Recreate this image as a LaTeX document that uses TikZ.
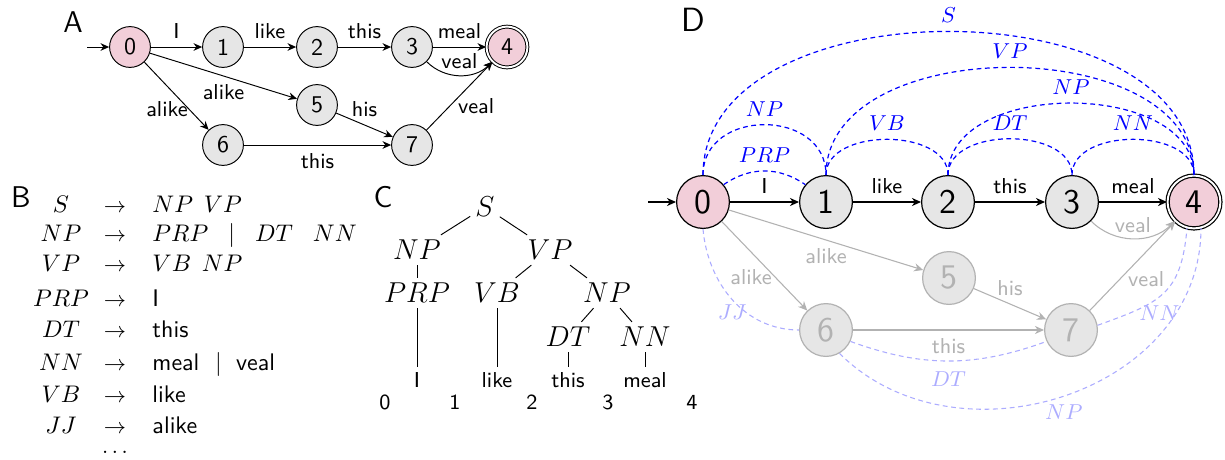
\documentclass[tikz,border=0pt]{standalone}
\usetikzlibrary{arrows.meta}
\definecolor{stpink}{RGB}{242,206,217}
\definecolor{stgray}{RGB}{230,230,230}
\definecolor{ghgray}{RGB}{178,178,178}
\definecolor{lblue}{RGB}{172,172,255}
\begin{document}
\begin{tikzpicture}[x=0.41667pt,y=0.41667pt,
  panel/.style={font=\sffamily\fontsize{12.5}{13}\selectfont, inner sep=0pt},
  panelD/.style={font=\sffamily\fontsize{14}{15}\selectfont, inner sep=0pt},
  sa/.style={circle,draw,line width=0.4pt,fill=stgray,minimum size=17pt,inner sep=0pt,font=\sffamily},
  sd/.style={circle,draw,line width=0.5pt,fill=stgray,minimum size=22pt,inner sep=0pt,font=\sffamily\Large},
  init/.style={fill=stpink},
  final/.style={double,double distance=0.8pt},
  ghost/.style={draw=ghgray,text=ghgray},
  el/.style={font=\sffamily\small},
  gl/.style={font=\sffamily\small,text=ghgray},
  ed/.style={-{Stealth[length=3.6pt,width=3.2pt]},line width=0.4pt},
  edd/.style={-{Stealth[length=3.8pt,width=3.4pt]},line width=0.5pt},
  gd/.style={-{Stealth[length=3.8pt,width=3.4pt]},draw=ghgray,line width=0.45pt},
  ch/.style={blue,dash pattern=on 2pt off 1.5pt,line width=0.5pt},
  chl/.style={lblue,dash pattern=on 2pt off 1.5pt,line width=0.45pt},
  chlab/.style={font=\small,text=blue},
  chll/.style={font=\small,text=lblue},
  tn/.style={font=\large,inner sep=2pt},
  tw/.style={font=\sffamily\small,inner sep=2pt},
  bl/.style={inner sep=0pt,anchor=base},
  br/.style={inner sep=0pt,anchor=base west,font=\sffamily},
  ba/.style={inner sep=0pt,anchor=base,font=\small}
]
\useasboundingbox (0,0) rectangle (1225,-459);

% ---------------- Panel A ----------------
\node[panel] (lA) at (73,-22) {A};
\node[sa,init] (a0) at (130,-47) {0};
\node[sa] (a1) at (223,-47) {1};
\node[sa] (a2) at (317,-47) {2};
\node[sa] (a3) at (412,-47) {3};
\node[sa,init,final] (a4) at (507,-47) {4};
\node[sa] (a5) at (317,-105) {5};
\node[sa] (a6) at (223,-145) {6};
\node[sa] (a7) at (412,-145) {7};
\coordinate (as) at (87,-47);
\draw[ed] (as) -- (a0);
\draw[ed] (a0) -- node[el,above]{I} (a1);
\draw[ed] (a1) -- node[el,above]{like} (a2);
\draw[ed] (a2) -- node[el,above]{this} (a3);
\draw[ed] (a3) -- node[el,above]{meal} (a4);
\draw[ed] (a3) to[out=-45,in=-135] node[el,above=-1pt]{veal} (a4);
\draw[ed] (a0) -- node[el,below]{alike} (a5);
\draw[ed] (a0) -- node[el,pos=0.7,left,inner sep=0.5pt]{alike} (a6);
\draw[ed] (a5) -- node[el,above]{his} (a7);
\draw[ed] (a6) -- node[el,below]{this} (a7);
\draw[ed] (a7) -- node[el,pos=0.35,right]{veal} (a4);

% ---------------- Panel B ----------------
\node[panel] (lB) at (21,-197) {B};
\node[bl] (bl1) at (61,-212) {$S$};
\node[ba] (ba1) at (115,-212) {$\rightarrow$};
\node[br] (br1) at (152,-212) {$NP\;\,VP$};
\node[bl] (bl2) at (61,-241) {$NP$};
\node[ba] (ba2) at (115,-241) {$\rightarrow$};
\node[br] (br2) at (152,-241) {$PRP\;\;\mid\;\;DT\;\;\;NN$};
\node[bl] (bl3) at (61,-271) {$VP$};
\node[ba] (ba3) at (115,-271) {$\rightarrow$};
\node[br] (br3) at (152,-271) {$VB\;\,NP$};
\node[bl] (bl4) at (61,-306) {$PRP$};
\node[ba] (ba4) at (115,-306) {$\rightarrow$};
\node[br] (br4) at (152,-306) {I};
\node[bl] (bl5) at (61,-337) {$DT$};
\node[ba] (ba5) at (115,-337) {$\rightarrow$};
\node[br] (br5) at (152,-337) {this};
\node[bl] (bl6) at (61,-370) {$NN$};
\node[ba] (ba6) at (115,-370) {$\rightarrow$};
\node[br] (br6) at (152,-370) {meal\hspace{6.5pt}$\mid$\hspace{6pt}veal};
\node[bl] (bl7) at (61,-402) {$VB$};
\node[ba] (ba7) at (115,-402) {$\rightarrow$};
\node[br] (br7) at (152,-402) {like};
\node[bl] (bl8) at (61,-433) {$JJ$};
\node[ba] (ba8) at (115,-433) {$\rightarrow$};
\node[br] (br8) at (152,-433) {alike};
\node[ba] (bdots) at (115,-453) {$\dots$};

% ---------------- Panel C ----------------
\node[panel] (lC) at (383,-197) {C};
\node[tn] (cS) at (485,-207) {$S$};
\node[tn] (cNP) at (417,-250) {$NP$};
\node[tn] (cVP) at (550,-250) {$VP$};
\node[tn] (cPRP) at (417,-293) {$PRP$};
\node[tn] (cVB) at (497,-293) {$VB$};
\node[tn] (cNPb) at (607,-293) {$NP$};
\node[tn] (cDT) at (568,-337) {$DT$};
\node[tn] (cNN) at (645,-337) {$NN$};
\node[tw] (cw1) at (417,-380) {I};
\node[tw] (cw2) at (497,-380) {like};
\node[tw] (cw3) at (568,-380) {this};
\node[tw] (cw4) at (645,-380) {meal};
\node[tw] (cn0) at (385,-402) {0};
\node[tw] (cn1) at (455,-402) {1};
\node[tw] (cn2) at (532,-402) {2};
\node[tw] (cn3) at (608,-402) {3};
\node[tw] (cn4) at (692,-402) {4};
\draw[line width=0.4pt] (cS) -- (cNP);
\draw[line width=0.4pt] (cS) -- (cVP);
\draw[line width=0.4pt] (cNP) -- (cPRP);
\draw[line width=0.4pt] (cPRP) -- (cw1);
\draw[line width=0.4pt] (cVP) -- (cVB);
\draw[line width=0.4pt] (cVP) -- (cNPb);
\draw[line width=0.4pt] (cVB) -- (cw2);
\draw[line width=0.4pt] (cNPb) -- (cDT);
\draw[line width=0.4pt] (cNPb) -- (cNN);
\draw[line width=0.4pt] (cDT) -- (cw3);
\draw[line width=0.4pt] (cNN) -- (cw4);

% ---------------- Panel D ----------------
\node[panelD] (lD) at (693,-20) {D};
\node[sd,init] (d0) at (703,-202) {0};
\node[sd] (d1) at (826,-202) {1};
\node[sd] (d2) at (948,-202) {2};
\node[sd] (d3) at (1072,-202) {3};
\node[sd,init,final] (d4) at (1194,-202) {4};
\node[sd,ghost] (d5) at (949,-278) {5};
\node[sd,ghost] (d6) at (826,-330) {6};
\node[sd,ghost] (d7) at (1071,-330) {7};
\coordinate (ds) at (648,-202);

\draw[chl] (d0.south) to[out=-85,in=180] node[chll,pos=0.62,left=-4pt]{$JJ$} (d6.west);
\draw[chl] (d6.-25) to[out=-20,in=-160] node[chll,below=1pt]{$DT$} (d7.-155);
\draw[chl] (d7.10) to[out=20,in=-95,looseness=1.3] node[chll,pos=0.45,below]{$NN$} (d4.-105);
\draw[chl] (d6.-60) to[out=-45,in=-90,looseness=1.1] node[chll,below]{$NP$} (d4.-75);

\draw[edd] (ds) -- (d0);
\draw[edd] (d0) -- node[el,above]{I} (d1);
\draw[edd] (d1) -- node[el,above]{like} (d2);
\draw[edd] (d2) -- node[el,above]{this} (d3);
\draw[edd] (d3) -- node[el,above]{meal} (d4);
\draw[gd] (d3) to[out=-45,in=-135] node[gl,above=-1pt]{veal} (d4);
\draw[gd] (d0) -- node[gl,below]{alike} (d5);
\draw[gd] (d0) -- node[gl,pos=0.62,left,inner sep=1pt]{alike} (d6);
\draw[gd] (d5) -- node[gl,above]{his} (d7);
\draw[gd] (d6) -- node[gl,below]{this} (d7);
\draw[gd] (d7) -- node[gl,pos=0.35,right]{veal} (d4);

\draw[ch] (d0.north) to[out=90,in=90] node[chlab,above]{$S$} (d4.north);
\draw[ch] (d1.north) to[out=90,in=90] node[chlab,above]{$VP$} (d4.north);
\draw[ch] (d2.north) to[out=90,in=90] node[chlab,above]{$NP$} (d4.north);
\draw[ch] (d0.north) to[out=90,in=90,looseness=1.4] node[chlab,above]{$NP$} (d1.north);
\draw[ch] (d0.40) to[out=35,in=145] node[chlab,above]{$PRP$} (d1.140);
\draw[ch] (d1.north) to[out=90,in=90] node[chlab,above]{$VB$} (d2.north);
\draw[ch] (d2.north) to[out=90,in=90] node[chlab,above]{$DT$} (d3.north);
\draw[ch] (d3.north) to[out=90,in=90] node[chlab,above]{$NN$} (d4.north);
\end{tikzpicture}
\end{document}
